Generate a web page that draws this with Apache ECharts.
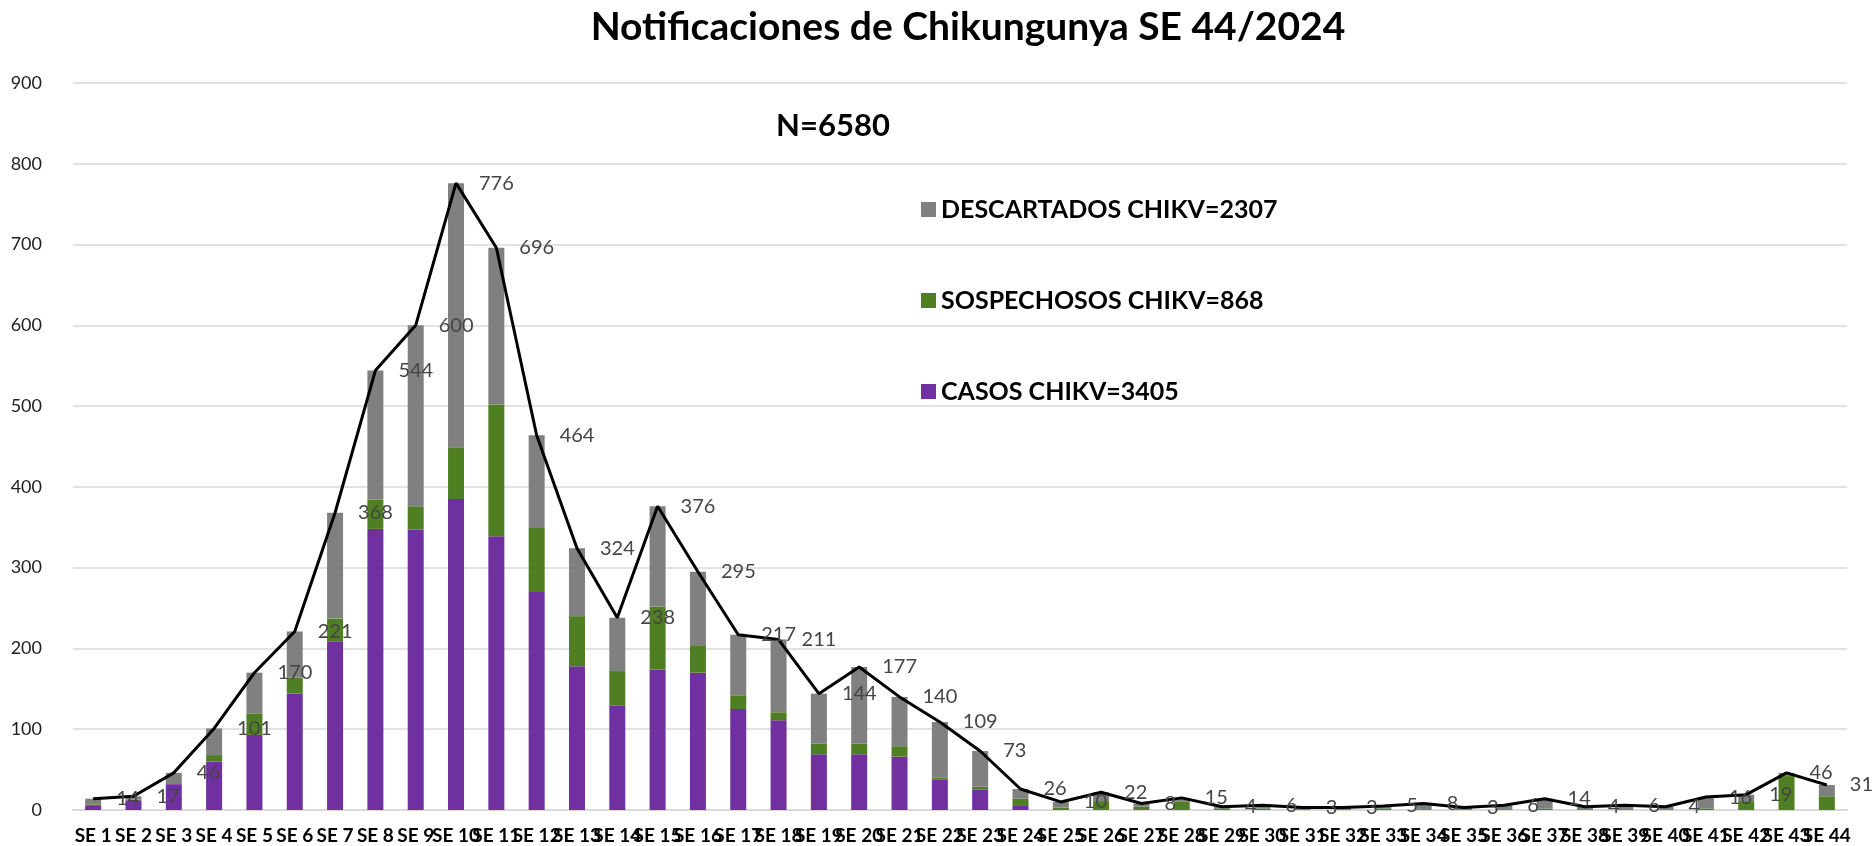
<!DOCTYPE html>
<html>
<head>
<meta charset="utf-8">
<script src="https://cdn.jsdelivr.net/npm/echarts@6/dist/echarts.min.js"></script>
<style>
html,body{margin:0;padding:0;background:#fff;}
#chart{width:1873px;height:846px;}
</style>
</head>
<body>
<div id="chart"></div>
<script>
var categories = ['SE 1','SE 2','SE 3','SE 4','SE 5','SE 6','SE 7','SE 8','SE 9','SE 10','SE 11','SE 12','SE 13','SE 14','SE 15','SE 16','SE 17','SE 18','SE 19','SE 20','SE 21','SE 22','SE 23','SE 24','SE 25','SE 26','SE 27','SE 28','SE 29','SE 30','SE 31','SE 32','SE 33','SE 34','SE 35','SE 36','SE 37','SE 38','SE 39','SE 40','SE 41','SE 42','SE 43','SE 44'];
var casos = [6,12,32,60,93,144,209,348,347,385,339,270,178,129,174,170,125,111,69,69,66,38,25,5,0,0,1,0,0,0,0,0,0,0,0,0,0,0,0,0,0,0,0,0];
var sospechosos = [1,1,0,8,26,20,28,36,29,64,163,79,62,43,78,34,17,10,13,13,13,2,4,9,3,11,3,10,2,2,1,1,2,1,1,1,2,1,1,1,2,11,42,17];
var descartados = [7,4,14,33,51,57,131,160,224,327,194,115,84,66,124,91,75,90,62,95,61,69,44,12,7,11,4,5,2,4,2,2,3,7,2,5,12,3,5,3,14,8,4,14];
var totales = [14,17,46,101,170,221,368,544,600,776,696,464,324,238,376,295,217,211,144,177,140,109,73,26,10,22,8,15,4,6,3,3,5,8,3,6,14,4,6,4,16,19,46,31];
var yTicks = [0,100,200,300,400,500,600,700,800,900];
var titleText = 'Notificaciones de Chikungunya SE 44/2024';
var subText = 'N=6580';
var nameCasos = 'CASOS CHIKV=3405';
var nameSosp = 'SOSPECHOSOS CHIKV=868';
var nameDesc = 'DESCARTADOS CHIKV=2307';

var FONT = 'Lato, "Open Sans", sans-serif';
var chart = echarts.init(document.getElementById('chart'), null, {renderer:'canvas'});
chart.setOption({
  animation:false,
  backgroundColor:'#ffffff',
  title:[
    {text:titleText, left:963, top:3, textAlign:'center',
     textStyle:{fontFamily:FONT, fontWeight:'bold', fontSize:39, color:'#000'}},
    {text:subText, left:828, top:105, textAlign:'center',
     textStyle:{fontFamily:FONT, fontWeight:'bold', fontSize:31, color:'#000'}}
  ],
  legend:{
    data:[nameDesc, nameSosp, nameCasos],
    orient:'vertical', left:916, top:192, itemGap:66,
    icon:'rect', itemWidth:15, itemHeight:15,
    textStyle:{fontFamily:FONT, fontWeight:'bold', fontSize:25, color:'#000'}
  },
  grid:{left:73, right:26, top:83, bottom:36, containLabel:false},
  xAxis:{
    type:'category', data:categories, boundaryGap:true,
    axisLine:{lineStyle:{color:'#d9d9d9', width:2}},
    axisTick:{show:false},
    axisLabel:{interval:0, margin:16, fontFamily:FONT, fontWeight:'bold', fontSize:19, color:'#000', hideOverlap:false}
  },
  yAxis:{
    type:'value', min:0, max:900, interval:100,
    axisLine:{show:false}, axisTick:{show:false},
    splitLine:{lineStyle:{color:'#d9d9d9', width:1.5}},
    axisLabel:{margin:31, fontFamily:FONT, fontSize:18, color:'#222',
      formatter:function(v){return yTicks.indexOf(v)>=0 ? String(v) : '';}}
  },
  series:[
    {name:nameCasos, type:'bar', stack:'t', data:casos, barWidth:16, itemStyle:{color:'#7030a0'}},
    {name:nameSosp, type:'bar', stack:'t', data:sospechosos, barWidth:16, itemStyle:{color:'#4f7f22'}},
    {name:nameDesc, type:'bar', stack:'t', data:descartados, barWidth:16, itemStyle:{color:'#808080'}},
    {name:'Total', type:'line', data:totales, symbol:'circle', symbolSize:2, showSymbol:true, showAllSymbol:true, z:5,
     itemStyle:{color:'rgba(0,0,0,0)', borderWidth:0},
     lineStyle:{color:'#000', width:3},
     label:{show:true, position:'right', distance:22, fontFamily:FONT, fontSize:20, color:'#454545', opacity:1}}
  ]
});
</script>
</body>
</html>
